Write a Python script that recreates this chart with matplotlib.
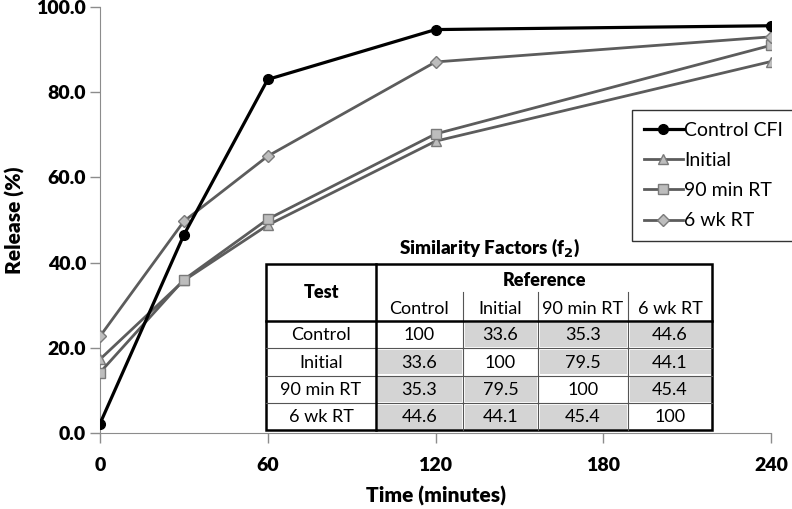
import numpy as np
import matplotlib.pyplot as plt
from matplotlib.patches import Rectangle

plt.rcParams["font.family"] = ["Lato", "DejaVu Sans"]

# Dissolution data
time = [0, 30, 60, 120, 240]
control_cfi = [2.2, 46.5, 83.0, 94.7, 95.6]
initial = [17.3, 35.8, 48.8, 68.5, 87.2]
rt_90min = [14.2, 36.0, 50.2, 70.2, 91.0]
rt_6wk = [22.7, 49.7, 65.0, 87.1, 93.0]

# Similarity factor table
tbl_names = ["Control", "Initial", "90 min RT", "6 wk RT"]
f2 = [[100, 33.6, 35.3, 44.6],
      [33.6, 100, 79.5, 44.1],
      [35.3, 79.5, 100, 45.4],
      [44.6, 44.1, 45.4, 100]]

W, H = 792, 509
fig = plt.figure(figsize=(W / 100, H / 100), dpi=100)
ax = fig.add_axes([100 / W, (H - 433) / H, 671 / W, 426 / H])

gray = "#5c5c5c"
ax.plot(time, control_cfi, color="black", lw=2.3, marker="o", ms=7,
        mfc="black", mec="black", label="Control CFI", zorder=5)
ax.plot(time, initial, color=gray, lw=2.0, marker="^", ms=7,
        mfc="#bdbdbd", mec="#7a7a7a", label="Initial", zorder=3)
ax.plot(time, rt_90min, color=gray, lw=2.0, marker="s", ms=7,
        mfc="#bdbdbd", mec="#7a7a7a", label="90 min RT", zorder=3)
ax.plot(time, rt_6wk, color=gray, lw=2.0, marker="D", ms=6,
        mfc="#bdbdbd", mec="#7a7a7a", label="6 wk RT", zorder=4)

ax.set_xlim(0, 240)
ax.set_ylim(0, 100)
ax.set_xticks([0, 60, 120, 180, 240])
ax.set_yticks([0, 20, 40, 60, 80, 100])
ax.set_yticklabels([f"{v:.1f}" for v in ax.get_yticks()])
for s in ["top", "right"]:
    ax.spines[s].set_visible(False)
for s in ["left", "bottom"]:
    ax.spines[s].set_color("#8c8c8c")
ax.tick_params(axis="both", colors="#8c8c8c", length=7, width=1,
               labelcolor="black", labelsize=14)
ax.tick_params(axis="x", pad=10)
ax.tick_params(axis="y", pad=3)
for lab in ax.get_xticklabels() + ax.get_yticklabels():
    lab.set_fontweight("heavy")
ax.set_xlabel("Time (minutes)", fontsize=15, fontweight="heavy", labelpad=9)
ax.set_ylabel("Release (%)", fontsize=15, fontweight="heavy", labelpad=8)
ax.set_clip_on(False)

leg = ax.legend(loc="upper left", bbox_to_anchor=(632 / W, 1 - 110 / H),
                bbox_transform=fig.transFigure, fontsize=14, frameon=True,
                fancybox=False, edgecolor="black", handlelength=2.0,
                handletextpad=0.1, labelspacing=0.68, borderpad=0.6,
                borderaxespad=0)
leg.get_frame().set_linewidth(1.0)

# Table drawn in pixel coordinates of the figure
tx = fig.add_axes([0, 0, 1, 1])
tx.set_xlim(0, W)
tx.set_ylim(H, 0)
tx.axis("off")

cols = [266, 376, 463, 538, 628, 712]
rows = [321, 348, 375.5, 403, 430]
top, mid = 264, 292
shade = "#d4d4d4"
fs = 13

for i in range(4):
    for j in range(4):
        if i != j:
            tx.add_patch(Rectangle((cols[j + 1] + 1.5, rows[i] + 1.5),
                                   cols[j + 2] - cols[j + 1] - 3,
                                   rows[i + 1] - rows[i] - 3,
                                   facecolor=shade, edgecolor="none"))
        tx.text((cols[j + 1] + cols[j + 2]) / 2, (rows[i] + rows[i + 1]) / 2 + 1,
                f"{f2[i][j]:g}", ha="center", va="center", fontsize=fs)
    tx.text((cols[0] + cols[1]) / 2, (rows[i] + rows[i + 1]) / 2 + 1,
            tbl_names[i], ha="center", va="center", fontsize=fs)
    tx.text((cols[i + 1] + cols[i + 2]) / 2, (mid + rows[0]) / 2 + 3,
            tbl_names[i], ha="center", va="center", fontsize=fs)

# thin inner lines
for y in rows[1:-1]:
    tx.plot([cols[0], cols[-1]], [y, y], color="#555555", lw=0.8)
for x in cols[2:-1]:
    tx.plot([x, x], [mid, rows[-1]], color="#555555", lw=0.8)
# thick lines
tx.add_patch(Rectangle((cols[0], top), cols[-1] - cols[0], rows[-1] - top,
                       facecolor="none", edgecolor="black", lw=1.8))
tx.plot([cols[1], cols[1]], [top, rows[-1]], color="black", lw=1.8)
tx.plot([cols[0], cols[-1]], [rows[0], rows[0]], color="black", lw=1.8)

tx.text((cols[0] + cols[1]) / 2, (top + rows[0]) / 2, "Test", ha="center",
        va="center", fontsize=fs, fontweight="heavy")
tx.text((cols[1] + cols[-1]) / 2, (top + mid) / 2 + 2, "Reference", ha="center",
        va="center", fontsize=fs, fontweight="heavy")
tx.text(489, 248, r"Similarity Factors (f$_\mathbf{2}$)", ha="center", va="center",
        fontsize=13.5, fontweight="heavy")

fig.savefig("out.png", dpi=100)
